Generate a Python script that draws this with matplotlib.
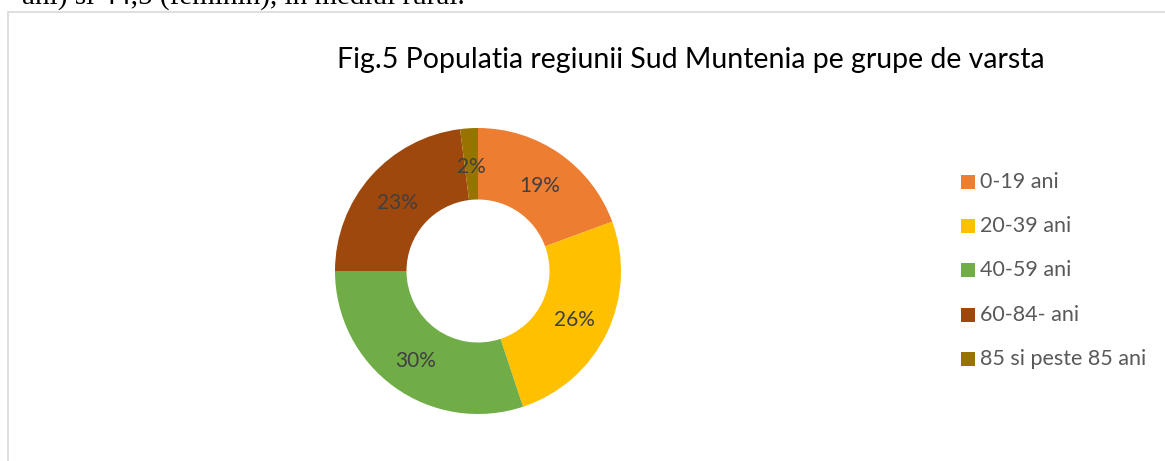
import numpy as np
import matplotlib.pyplot as plt
from matplotlib.patches import Rectangle

# %% Data
labels = ['0-19 ani', '20-39 ani', '40-59 ani', '60-84- ani', '85 si peste 85 ani']
shares = [19.4, 25.5, 30.1, 23.0, 2.0]
colors = ['#ED7D31', '#FFC000', '#70AD47', '#9E480E', '#997300']

title = 'Fig.5 Populatia regiunii Sud Muntenia pe grupe de varsta'
top_text = 'ani) si 44,5 (feminin), in mediul rural.'

# %% Figure
W, H = 1165, 461
fig = plt.figure(figsize=(W / 100, H / 100), dpi=100)
font = ['Lato', 'DejaVu Sans']

# chart frame
fig.patches.append(Rectangle((8 / W, -0.05), 1.2, (H - 12) / H + 0.05,
                             transform=fig.transFigure, fill=False,
                             edgecolor='#D9D9D9', linewidth=1.2))

# cut off line of document text above the chart
fig.text(465 / W, 1 - 5 / H, top_text, ha='right', va='baseline',
         family='Liberation Serif', fontsize=21, color='black')

fig.text(691 / W, 1 - 60 / H, title, ha='center', va='center',
         family=font, fontsize=20.5, color='black')

# %% Donut
cx, cy, r = 478, 271, 143
ax = fig.add_axes([(cx - r) / W, 1 - (cy + r) / H, 2 * r / W, 2 * r / H])
wedges, _ = ax.pie(shares, colors=colors, startangle=90, counterclock=False,
                   radius=1, wedgeprops=dict(width=0.5, edgecolor='none'))
ax.set_xlim(-1, 1)
ax.set_ylim(-1, 1)
ax.set_aspect('equal')
ax.axis('off')

# data labels in the middle of the ring
total = sum(shares)
start = 90.0
for v in shares:
    a = np.deg2rad(start - v / total * 180)
    ax.text(0.75 * np.cos(a), 0.75 * np.sin(a) - 0.02, f'{round(v)}%',
            ha='center', va='center', family=font, fontsize=15, color='#404040')
    start -= v / total * 360

# %% Legend
ys = [182, 226, 270, 315, 359]
for lab, col, y in zip(labels, colors, ys):
    fig.patches.append(Rectangle((961 / W, 1 - (y + 7) / H), 14 / W, 14 / H,
                                 transform=fig.transFigure, facecolor=col,
                                 edgecolor='none'))
    fig.text(980 / W, 1 - y / H, lab, ha='left', va='center',
             family=font, fontsize=15.5, color='#595959')

fig.savefig('out.png', dpi=100)
